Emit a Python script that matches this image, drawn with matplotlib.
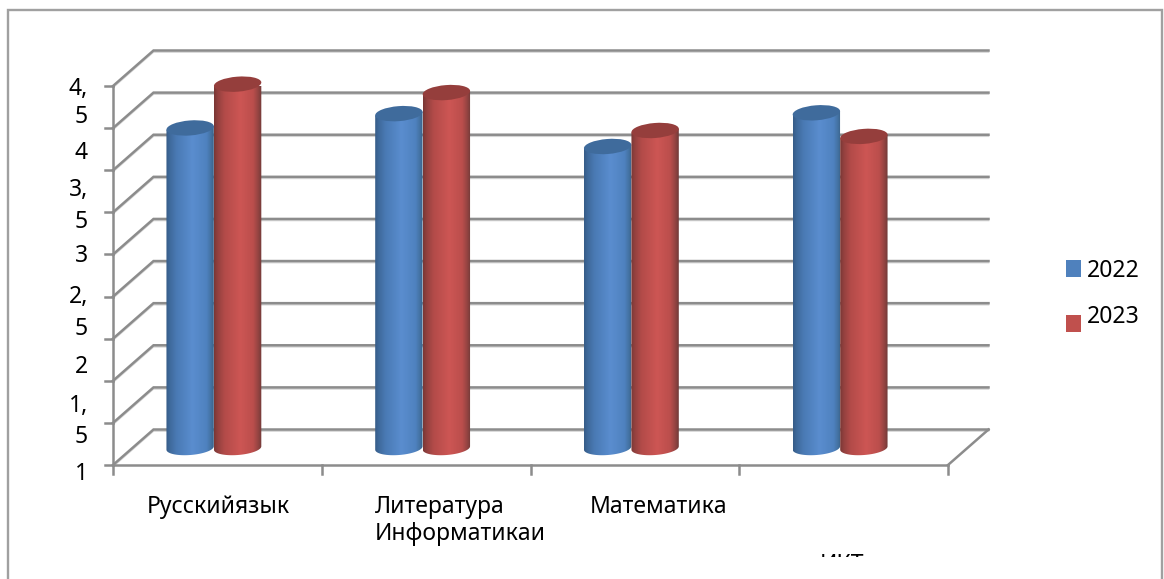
import numpy as np
import matplotlib
matplotlib.use("Agg")
import matplotlib.pyplot as plt
from matplotlib.colors import LinearSegmentedColormap
from matplotlib.patches import Ellipse, PathPatch, Rectangle
from matplotlib.path import Path
from matplotlib.transforms import Affine2D, Bbox, IdentityTransform

plt.rcParams['font.family'] = ['Noto Sans', 'DejaVu Sans']

series_names = ['2022', '2023']
values_2022 = [3.80, 3.97, 3.58, 3.98]
values_2023 = [4.32, 4.22, 3.77, 3.70]
value_ticks = [0, 0.5, 1, 1.5, 2, 2.5, 3, 3.5, 4, 4.5]
y_label_parts = ['4,', '5', '4', '3,', '5', '3', '2,', '5', '2', '1,', '5', '1']
x_labels = ['Русскийязык', 'Литература', 'Информатикаи', 'Математика', 'ИКТ']

W, H = 1164, 579
GRID = '#8c8c8c'
SOFT = '#d4d4d4'
fig = plt.figure(figsize=(W / 100, H / 100), dpi=100, facecolor='white')
L, R, T, B = 113, 948, 86, 465
ax = fig.add_axes([L / W, (H - B) / H, (R - L) / W, (B - T) / H])
ax.axis('off')
ax.set_xlim(0, 4)
ax.set_ylim(0, 4.5)


def fx(x):
    return x / W


def fy(y):
    return (H - y) / H


# outer frame (its bottom edge lies below the picture)
fig.add_artist(Rectangle((fx(8), fy(700)), (1162 - 8) / W, (700 - 10) / H,
                         transform=fig.transFigure, fill=False,
                         ec='#a0a0a0', lw=1.7))

DEPTH_X, DEPTH_Y = 40.5, 35.5
to_data = ax.transData
lw = 1.8
for v in value_ticks:
    fx0, fy0 = to_data.transform((0, v))
    xs = [fx0, fx0 + DEPTH_X, to_data.transform((4, v))[0] + DEPTH_X]
    ys = [fy0, fy0 + DEPTH_Y, fy0 + DEPTH_Y]
    ax.plot(xs, [y - 1.5 for y in ys], transform=None, color=SOFT, lw=1.2,
            clip_on=False, zorder=0.9)
    ax.plot(xs, ys, transform=None, color=GRID, lw=lw, clip_on=False,
            solid_joinstyle='miter', zorder=1)
    ax.plot([fx0 - 8, fx0], [fy0, fy0], transform=None, color=GRID, lw=lw,
            clip_on=False, zorder=1)

ax.plot([0, 0], [0, 4.5], color=GRID, lw=lw, clip_on=False, zorder=1)
ax.plot([0, 4], [0, 0], color=GRID, lw=lw, clip_on=False, zorder=1)
bx, by = to_data.transform((4, 0))
ax.plot([bx, bx + DEPTH_X], [by, by + DEPTH_Y], transform=None, color=GRID,
        lw=lw, clip_on=False, zorder=1)
for i in range(5):
    tx, ty = to_data.transform((i, 0))
    ax.plot([tx, tx], [ty - 9, ty], transform=None, color=GRID, lw=lw,
            clip_on=False, zorder=1)

# cylinders
blue_cmap = LinearSegmentedColormap.from_list(
    'b', [(0, '#365c88'), (0.08, '#3f6a9c'), (0.22, '#4a7ab4'), (0.55, '#5a8dcf'),
          (0.85, '#4f82bf'), (0.95, '#42709f'), (1, '#3a6288')])
red_cmap = LinearSegmentedColormap.from_list(
    'r', [(0, '#7a3735'), (0.08, '#94413f'), (0.22, '#b34b49'), (0.55, '#cd5654'),
          (0.82, '#bb4e4c'), (0.94, '#8e4240'), (1, '#6f3a38')])
top_colors = ['#3f6b9c', '#953e3c']
grad = np.linspace(0, 1, 128).reshape(1, -1)

BAR_PX = 47.5
RY_TOP = 7.5
RY_BOTTOM = 7.0
TILT = np.deg2rad(4.5)
bar_w = BAR_PX / ((R - L) / 4)
px_per_unit = (B - T) / 4.5
ry = 10 / px_per_unit
shift = Affine2D().translate(-3.5, 17)
trans = ax.transData + shift

for k, (vals, cmap, tc) in enumerate(zip([values_2022, values_2023],
                                         [blue_cmap, red_cmap], top_colors)):
    for i, v in enumerate(vals):
        x0 = i + 0.5 + (k - 1) * bar_w
        x1 = x0 + bar_w
        xc = (x0 + x1) / 2
        cx, base_y = trans.transform((xc, 0))
        _, top_y = trans.transform((xc, v))
        t = np.linspace(np.pi, 2 * np.pi, 48)
        ex = BAR_PX / 2 * np.cos(t)
        ey = RY_BOTTOM * np.sin(t)
        arc_x = cx + ex * np.cos(TILT) - ey * np.sin(TILT)
        arc_y = base_y + ex * np.sin(TILT) + ey * np.cos(TILT)
        verts = ([(arc_x[0], top_y - BAR_PX / 2 * np.sin(TILT))]
                 + list(zip(arc_x, arc_y))
                 + [(arc_x[-1], top_y + BAR_PX / 2 * np.sin(TILT))]
                 + [(arc_x[0], top_y - BAR_PX / 2 * np.sin(TILT))])
        patch = PathPatch(Path(verts), transform=IdentityTransform(), fc='none',
                          ec='none', zorder=2 + k)
        ax.add_patch(patch)
        im = ax.imshow(grad, cmap=cmap, extent=(x0, x1, -ry, v + ry), aspect='auto',
                       interpolation='bilinear', zorder=2 + k, transform=trans)
        im.set_clip_path(patch)
        ax.add_patch(Ellipse((cx, top_y), BAR_PX, 2 * RY_TOP, angle=np.rad2deg(TILT),
                             transform=IdentityTransform(), fc=tc, ec='none',
                             zorder=2.5 + k, clip_on=False))
ax.set_xlim(0, 4)
ax.set_ylim(0, 4.5)

FS = 16.5
y_part_pos = [89, 117, 153, 190, 222, 256, 297, 329, 367, 406, 437, 474]
for s, y in zip(y_label_parts, y_part_pos):
    fig.text(fx(88), fy(y), s, ha='right', va='center', fontsize=FS, color='black')

x_label_pos = [(147, 507), (375, 507), (375, 534), (590, 507)]
for s, (x, y) in zip(x_labels[:4], x_label_pos):
    fig.text(fx(x), fy(y), s, ha='left', va='center', fontsize=FS, color='black')

# last category label is cut off by the picture of the chart
clipped = fig.text(fx(842), fy(553), x_labels[4], ha='center', va='top',
                   fontsize=FS, color='black')
clipped.set_clip_box(Bbox([[780, H - 557], [900, H - 545]]))
clipped.set_clip_on(True)

# legend
legend_colors = ['#4f81bd', '#c0504d']
for name, col, ys, yt in zip(series_names, legend_colors, [260, 315], [271, 317]):
    fig.add_artist(Rectangle((fx(1066), fy(ys + 17)), 15 / W, 17 / H,
                             transform=fig.transFigure, fc=col, ec='none'))
    fig.text(fx(1087), fy(yt), name, ha='left', va='center', fontsize=FS, color='black')

fig.savefig('out.png', dpi=100, facecolor='white')
